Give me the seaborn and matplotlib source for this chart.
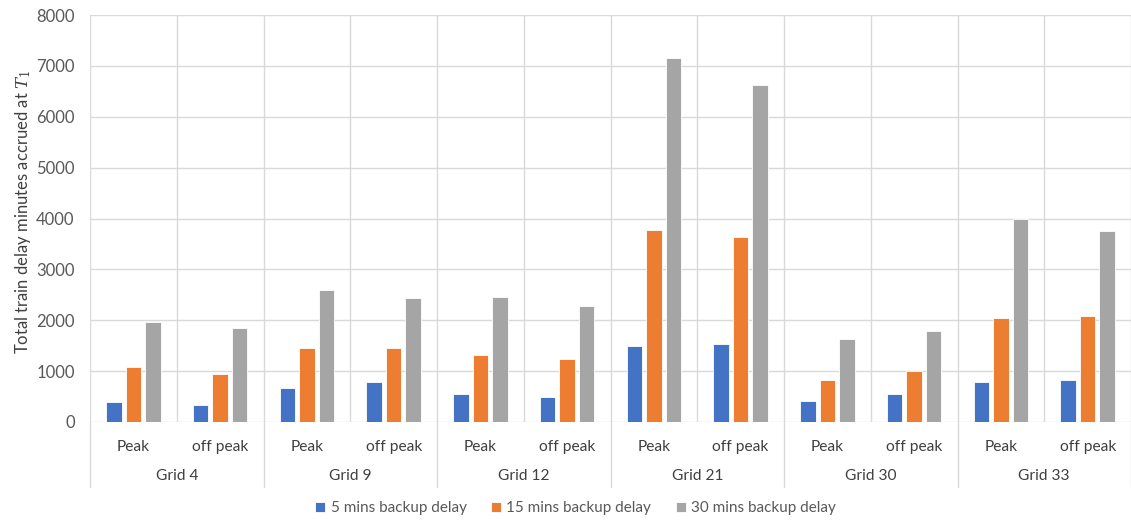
import numpy as np
import pandas as pd
import matplotlib
matplotlib.use("Agg")
import matplotlib.pyplot as plt
import matplotlib.transforms as mtransforms
from matplotlib.lines import Line2D
import seaborn as sns

# Categories
grids = ["Grid 4", "Grid 9", "Grid 12", "Grid 21", "Grid 30", "Grid 33"]
periods = ["Peak", "off peak"]
series = ["5 mins backup delay", "15 mins backup delay", "30 mins backup delay"]

# Total delay minutes, one value per (grid, period) in order
delay_5 = [400, 340, 660, 790, 550, 485, 1495, 1530, 405, 550, 785, 830]
delay_15 = [1085, 950, 1455, 1455, 1325, 1245, 3765, 3635, 835, 1005, 2050, 2080]
delay_30 = [1960, 1845, 2595, 2430, 2460, 2285, 7145, 6620, 1640, 1780, 3995, 3745]

colors = ["#4472C4", "#ED7D31", "#A5A5A5"]

slots = [f"{g}|{p}" for g in grids for p in periods]
rows = []
for name, vals in zip(series, [delay_5, delay_15, delay_30]):
    for slot, v in zip(slots, vals):
        rows.append({"slot": slot, "minutes": v, "series": name})
df = pd.DataFrame(rows)

sns.set_theme(style="white")
plt.rcParams["font.family"] = ["Lato", "DejaVu Sans"]
plt.rcParams["mathtext.fontset"] = "dejavuserif"

fig = plt.figure(figsize=(11.31, 5.21), dpi=100)
W, H = 1131, 521
ax = fig.add_axes([90 / W, 1 - 422 / H, 1 - 90 / W, (422 - 15) / H])

sns.barplot(data=df, x="slot", y="minutes", hue="series", order=slots,
            hue_order=series, palette=colors, saturation=1, width=0.675,
            gap=0.2, errorbar=None, edgecolor="white", linewidth=0.6,
            ax=ax, zorder=3)

grid_c = "#D9D9D9"
ax.set_xlim(-0.5, len(slots) - 0.5)
ax.set_ylim(0, 8000)
ax.set_yticks(np.arange(0, 8001, 1000))
ax.yaxis.grid(True, color=grid_c, lw=1)
for k in range(len(slots) + 1):
    ax.axvline(k - 0.5, color=grid_c, lw=1, zorder=1)
ax.set_axisbelow(True)
for s in ax.spines.values():
    s.set_visible(False)

ax.set_xticks(range(len(slots)))
ax.set_xticklabels([s.split("|")[1] for s in slots])
ax.tick_params(axis="x", length=0, pad=13, labelsize=11.2, labelcolor="#404040")
ax.tick_params(axis="y", length=0, pad=11, labelsize=12, labelcolor="#595959")
ax.set_xlabel("")

ax.set_ylabel("Total train delay minutes accrued at $T_1$", fontsize=12,
              color="#404040")
ax.yaxis.set_label_coords(-0.055, 0.515)

# Outer category level: grid names and separators below the axis
trans = mtransforms.blended_transform_factory(ax.transData, ax.transAxes)
sep_bottom = -(487 - 422) / 407
for i, g in enumerate(grids):
    ax.text(2 * i + 0.5, -(476 - 422) / 407, g, transform=trans,
            ha="center", va="center", fontsize=11.2, color="#404040")
for i in range(len(grids) + 1):
    ax.add_line(Line2D([2 * i - 0.5, 2 * i - 0.5], [0, sep_bottom],
                       transform=trans, color=grid_c, lw=1, clip_on=False))

sns.move_legend(ax, "center", bbox_to_anchor=(0.509, 1 - 508 / H),
                bbox_transform=fig.transFigure, ncol=3, frameon=False,
                title=None, fontsize=11, handlelength=0.65, handleheight=0.65,
                handletextpad=0.35, columnspacing=1.6)
for t in ax.get_legend().get_texts():
    t.set_color("#595959")

fig.savefig("out.png", dpi=100)
